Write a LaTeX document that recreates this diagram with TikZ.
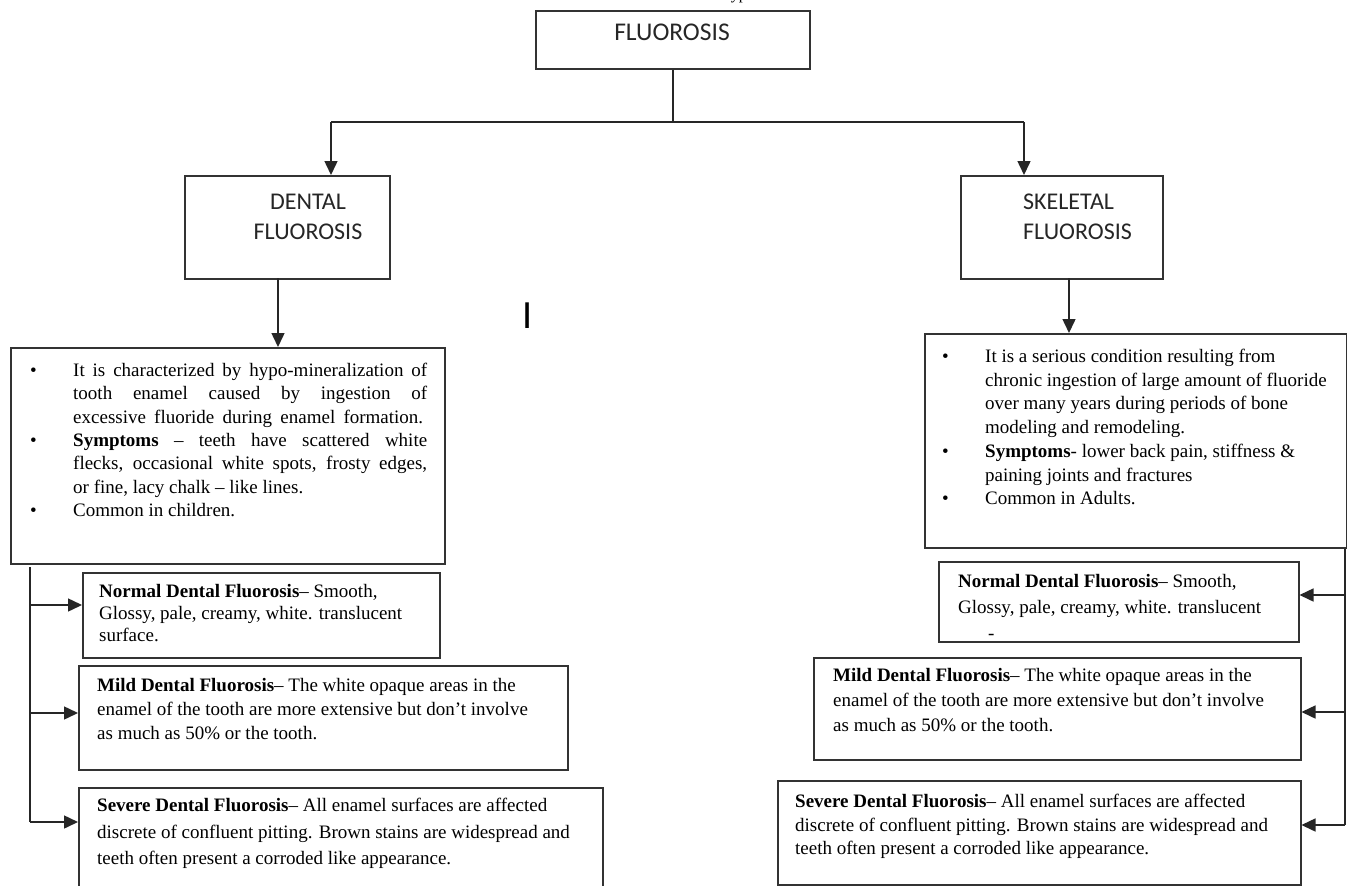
\documentclass[tikz,border=0pt]{standalone}
\usepackage{fontspec}
\setmainfont{Liberation Serif}
\newfontfamily\calib{Carlito}
\usetikzlibrary{arrows.meta}
\newcommand{\jl}[1]{\makebox[354pt][s]{#1}}
\begin{document}
\begin{tikzpicture}[x=1pt,y=-1pt,
  box/.style={draw=black!80, line width=1.5pt, inner sep=0pt, anchor=north west},
  conn/.style={draw=black!85, line width=1.5pt},
  arr/.style={conn, -{Triangle[width=13pt,length=14pt]}},
  ttl/.style={font=\calib\fontsize{24}{30}\selectfont, text=black!85, inner sep=0pt},
  body/.style={align=left, inner sep=0pt, anchor=north west}]
\useasboundingbox (0,0) rectangle (1347,886);
\fill[white] (0,0) rectangle (1347,886);

% stray text fragments
\node[anchor=base west, inner sep=0pt, font=\fontsize{16}{18}\selectfont] (frag) at (722,-0.5) {Types};
\node[inner sep=0pt, font=\calib\fontsize{40}{40}\selectfont] (bar) at (528,316) {I};

% boxes
\node[box, minimum width=274pt, minimum height=58pt] (fl) at (535,10) {};
\node[box, minimum width=205pt, minimum height=103pt] (dent) at (184,175) {};
\node[box, minimum width=202pt, minimum height=103pt] (skel) at (960,175) {};
\node[box, minimum width=434pt, minimum height=216pt] (ldesc) at (10,347) {};
\node[box, minimum width=422pt, minimum height=214pt] (rdesc) at (924,333) {};
\node[box, minimum width=357pt, minimum height=85pt] (lnorm) at (82,572) {};
\node[box, minimum width=489pt, minimum height=104pt] (lmild) at (78,665) {};
\node[box, minimum width=524pt, minimum height=120pt] (lsev) at (78,787) {};
\node[box, minimum width=360pt, minimum height=80pt] (rnorm) at (938,561) {};
\node[box, minimum width=487pt, minimum height=102pt] (rmild) at (813,657) {};
\node[box, minimum width=523pt, minimum height=104pt] (rsev) at (777,780) {};

% titles
\node[ttl, font=\calib\fontsize{25.5}{30}\selectfont] (tfl) at (672,32) {FLUOROSIS};
\node[ttl, align=center] (tdent) at (308,217) {DENTAL\\FLUOROSIS};
\node[ttl, align=left, anchor=west] (tskel) at (1023,217) {SKELETAL\\FLUOROSIS};

% descriptions
\node[body, font=\fontsize{19}{23.3}\selectfont] (tldesc) at (30,363) {%
\makebox[43pt][l]{\textbullet}\jl{It is characterized by hypo-mineralization of}\\
\hspace*{43pt}\jl{tooth enamel caused by ingestion of}\\
\hspace*{43pt}\makebox[350pt][s]{excessive fluoride during enamel formation.}\\
\makebox[43pt][l]{\textbullet}\jl{\textbf{Symptoms} – teeth have scattered white}\\
\hspace*{43pt}\jl{flecks, occasional white spots, frosty edges,}\\
\hspace*{43pt}or fine, lacy chalk – like lines.\\
\makebox[43pt][l]{\textbullet}Common in children.};

\node[body, font=\fontsize{19}{23.7}\selectfont] (trdesc) at (942,349) {%
\makebox[43pt][l]{\textbullet}It is a serious condition resulting from\\
\hspace*{43pt}chronic ingestion of large amount of fluoride\\
\hspace*{43pt}over many years during periods of bone\\
\hspace*{43pt}modeling and remodeling.\\
\makebox[43pt][l]{\textbullet}\textbf{Symptoms}- lower back pain, stiffness \&\\
\hspace*{43pt}paining joints and fractures\\
\makebox[43pt][l]{\textbullet}Common in Adults.};

\node[body, font=\fontsize{19}{22}\selectfont] (tlnorm) at (99,584) {%
\textbf{Normal Dental Fluorosis}– Smooth,\\
Glossy, pale, creamy, white. translucent\\
surface.};
\node[body, font=\fontsize{19}{24}\selectfont] (tlmild) at (97,678) {%
\textbf{Mild Dental Fluorosis}– The white opaque areas in the\\
enamel of the tooth are more extensive but don’t involve\\
as much as 50\% or the tooth.};
\node[body, font=\fontsize{19}{26.5}\selectfont] (tlsev) at (97,798) {%
\textbf{Severe Dental Fluorosis}– All enamel surfaces are affected\\
discrete of confluent pitting. Brown stains are widespread and\\
teeth often present a corroded like appearance.};

\node[body, font=\fontsize{19}{26}\selectfont] (trnorm) at (958,574) {%
\textbf{Normal Dental Fluorosis}– Smooth,\\
Glossy, pale, creamy, white. translucent\\
\hspace*{30pt}-};
\node[body, font=\fontsize{19}{25}\selectfont] (trmild) at (833,668) {%
\textbf{Mild Dental Fluorosis}– The white opaque areas in the\\
enamel of the tooth are more extensive but don’t involve\\
as much as 50\% or the tooth.};
\node[body, font=\fontsize{19}{23.5}\selectfont] (trsev) at (795,794) {%
\textbf{Severe Dental Fluorosis}– All enamel surfaces are affected\\
discrete of confluent pitting. Brown stains are widespread and\\
teeth often present a corroded like appearance.};

% connectors
\coordinate (jl) at (331,122);
\coordinate (jr) at (1024,122);
\coordinate (da) at (278,278);
\coordinate (sa) at (1069,278);
\draw[conn] (fl.south) -- (fl.south |- jl);
\draw[conn] (jl) -- (jr);
\draw[arr] (jl) -- (dent.north -| jl);
\draw[arr] (jr) -- (skel.north -| jr);
\draw[arr] (da) -- (da |- ldesc.north);
\draw[arr] (sa) -- (sa |- rdesc.north);

\coordinate (lb) at (30,567);
\coordinate (la1) at (30,605);
\coordinate (la2) at (30,713);
\coordinate (la3) at (30,822);
\draw[conn] (lb) -- (la3);
\draw[arr] (la1) -- (la1 -| lnorm.west);
\draw[arr] (la2) -- (la2 -| lmild.west);
\draw[arr] (la3) -- (la3 -| lsev.west);

\coordinate (rb) at (1345,549);
\coordinate (ra1) at (1345,595);
\coordinate (ra2) at (1345,712);
\coordinate (ra3) at (1345,825);
\draw[conn] (rb) -- (ra3);
\draw[arr] (ra1) -- (ra1 -| rnorm.east);
\draw[arr] (ra2) -- (ra2 -| rmild.east);
\draw[arr] (ra3) -- (ra3 -| rsev.east);
\end{tikzpicture}
\end{document}
